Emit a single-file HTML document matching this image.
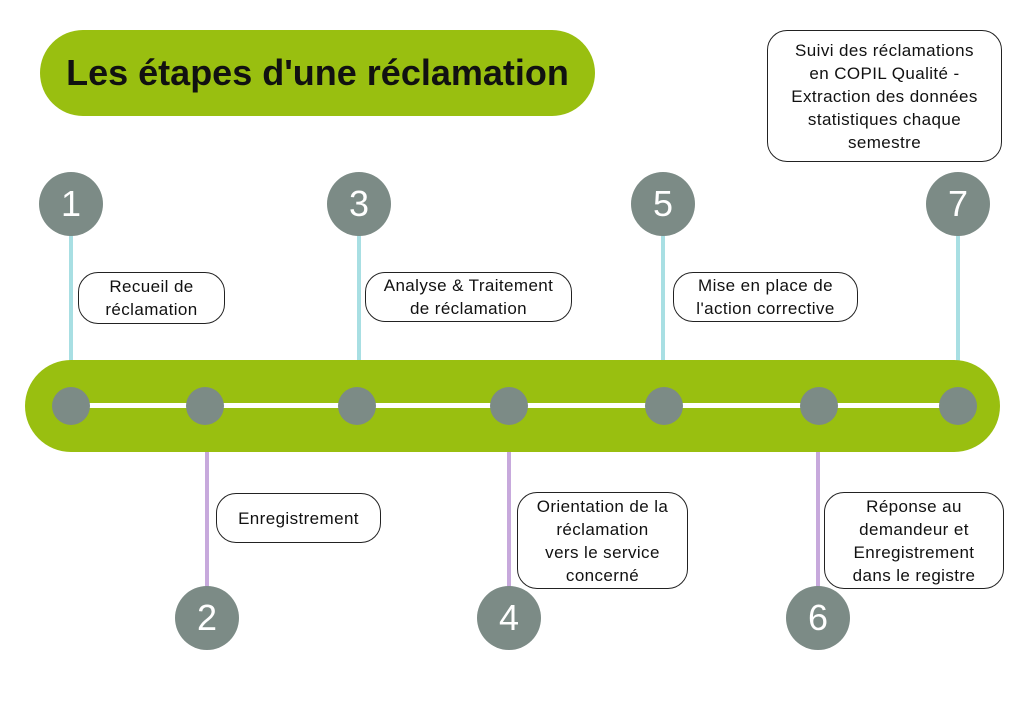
<!DOCTYPE html>
<html><head><meta charset="utf-8"><style>
body{margin:0;width:1024px;height:724px;background:#fff;position:relative;overflow:hidden;font-family:"Liberation Sans",sans-serif}
.a{position:absolute}
.pill{left:40px;top:30px;width:555px;height:86px;background:#99bf10;border-radius:43px;display:flex;align-items:center;justify-content:center;font-weight:bold;font-size:36px;color:#111}
.bar{left:25px;top:360px;width:975px;height:92px;background:#99bf10;border-radius:46px}
.wl{left:71px;top:403px;width:887px;height:5px;background:#fff}
.dot{width:38px;height:38px;border-radius:50%;background:#7c8b86;margin:-19px 0 0 -19px;top:406px}
.big{width:64px;height:64px;border-radius:50%;background:#7c8b86;margin:-32px 0 0 -32px;color:#fff;font-size:36px;display:flex;align-items:center;justify-content:center}
.lc{width:4px;background:#a8dfe3;margin-left:-2px}
.lp{width:4px;background:#c7a9dc;margin-left:-2px}
.box{border:1.5px solid #222;border-radius:20px;background:#fff;font-size:17px;color:#111;text-align:center;display:flex;align-items:center;justify-content:center;line-height:23px;box-sizing:border-box;letter-spacing:.4px}
</style></head><body>
<div class="a pill">Les étapes d'une réclamation</div>
<div class="a lc" style="left:71px;top:230px;height:135px"></div>
<div class="a lc" style="left:359px;top:230px;height:135px"></div>
<div class="a lc" style="left:663px;top:230px;height:135px"></div>
<div class="a lc" style="left:958px;top:230px;height:135px"></div>
<div class="a lp" style="left:207px;top:445px;height:150px"></div>
<div class="a lp" style="left:509px;top:445px;height:150px"></div>
<div class="a lp" style="left:818px;top:445px;height:150px"></div>
<div class="a bar"></div>
<div class="a wl"></div>
<div class="a dot" style="left:71px"></div>
<div class="a dot" style="left:205px"></div>
<div class="a dot" style="left:357px"></div>
<div class="a dot" style="left:509px"></div>
<div class="a dot" style="left:664px"></div>
<div class="a dot" style="left:819px"></div>
<div class="a dot" style="left:958px"></div>
<div class="a big" style="left:71px;top:204px">1</div>
<div class="a big" style="left:359px;top:204px">3</div>
<div class="a big" style="left:663px;top:204px">5</div>
<div class="a big" style="left:958px;top:204px">7</div>
<div class="a big" style="left:207px;top:618px">2</div>
<div class="a big" style="left:509px;top:618px">4</div>
<div class="a big" style="left:818px;top:618px">6</div>
<div class="a box" style="left:78px;top:272px;width:147px;height:52px">Recueil de<br>réclamation</div>
<div class="a box" style="left:365px;top:272px;width:207px;height:50px">Analyse &amp; Traitement<br>de réclamation</div>
<div class="a box" style="left:673px;top:272px;width:185px;height:50px">Mise en place de<br>l'action corrective</div>
<div class="a box" style="left:767px;top:30px;width:235px;height:132px">Suivi des réclamations<br>en COPIL Qualité -<br>Extraction des données<br>statistiques chaque<br>semestre</div>
<div class="a box" style="left:216px;top:493px;width:165px;height:50px">Enregistrement</div>
<div class="a box" style="left:517px;top:492px;width:171px;height:97px">Orientation de la<br>réclamation<br>vers le service<br>concerné</div>
<div class="a box" style="left:824px;top:492px;width:180px;height:97px">Réponse au<br>demandeur et<br>Enregistrement<br>dans le registre</div>
</body></html>
